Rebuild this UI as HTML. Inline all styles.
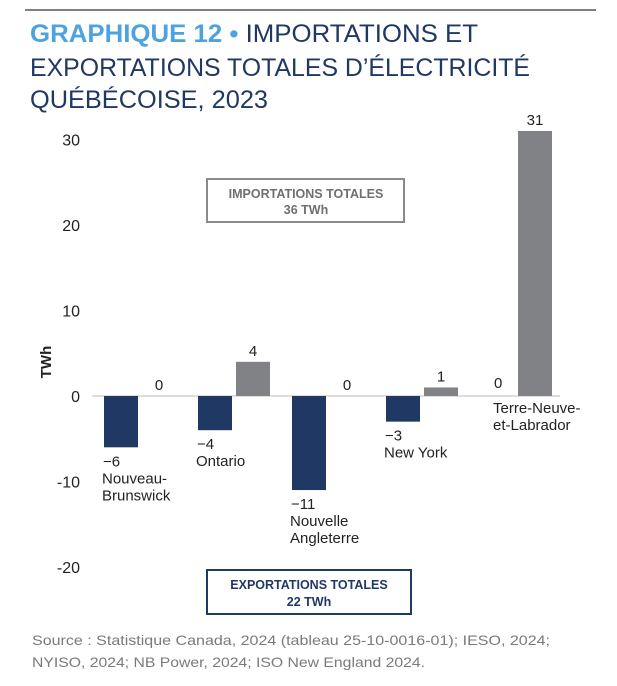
<!DOCTYPE html>
<html><head><meta charset="utf-8"><style>
html,body{margin:0;padding:0;background:#fff}
svg{display:block;font-family:"Liberation Sans",sans-serif}
</style></head><body>
<svg width="617" height="686" viewBox="0 0 617 686">
<line x1="25" y1="10" x2="596" y2="10" stroke="#7f7f7f" stroke-width="2"/>
<text x="30" y="42" font-size="25" fill="#1f3864" textLength="448" lengthAdjust="spacingAndGlyphs"><tspan fill="#4da3e0" font-weight="bold">GRAPHIQUE 12 • </tspan>IMPORTATIONS ET</text>
<text x="30" y="76" font-size="25" fill="#1f3864" textLength="500" lengthAdjust="spacingAndGlyphs">EXPORTATIONS TOTALES D’ÉLECTRICITÉ</text>
<text x="30" y="108" font-size="25" fill="#1f3864" textLength="238" lengthAdjust="spacingAndGlyphs">QUÉBÉCOISE, 2023</text>
<g id="yaxis"></g>
<text x="0" y="0" transform="translate(51,362) rotate(-90)" text-anchor="middle" font-size="15" font-weight="bold" fill="#222">TWh</text>
<g id="bars"></g>
<rect x="207" y="179" width="197" height="43" fill="#fff" stroke="#8a8a8a" stroke-width="2"/>
<text x="306" y="198" text-anchor="middle" font-size="12.5" font-weight="bold" fill="#6f6f6f">IMPORTATIONS TOTALES</text>
<text x="306" y="214" text-anchor="middle" font-size="12.5" font-weight="bold" fill="#6f6f6f">36 TWh</text>
<rect x="207" y="570" width="204" height="44" fill="#fff" stroke="#1f3864" stroke-width="2"/>
<text x="309" y="589" text-anchor="middle" font-size="12.5" font-weight="bold" fill="#1f3864">EXPORTATIONS TOTALES</text>
<text x="309" y="606" text-anchor="middle" font-size="12.5" font-weight="bold" fill="#1f3864">22 TWh</text>
<text x="32" y="645" font-size="14" fill="#7a7a7a" textLength="518" lengthAdjust="spacingAndGlyphs">Source : Statistique Canada, 2024 (tableau 25-10-0016-01); IESO, 2024;</text>
<text x="32" y="667" font-size="14" fill="#7a7a7a" textLength="393" lengthAdjust="spacingAndGlyphs">NYISO, 2024; NB Power, 2024; ISO New England 2024.</text>
</svg>
<script>
const categories=["Nouveau-Brunswick","Ontario","Nouvelle Angleterre","New York","Terre-Neuve-et-Labrador"];
const exportsVals=[-6,-4,-11,-3,0];
const importsVals=[0,4,0,1,31];
const yTicks=[30,20,10,0,-10,-20];
const yTickLabels=["30","20","10","0","-10","-20"];
const catLabelLines=[["Nouveau-","Brunswick"],["Ontario"],["Nouvelle","Angleterre"],["New York"],["Terre-Neuve-","et-Labrador"]];
const NS="http://www.w3.org/2000/svg";
const y=v=>396-v*8.55;
const xc=i=>140+i*94;
function mk(tag,attrs,parent,text){const e=document.createElementNS(NS,tag);for(const k in attrs)e.setAttribute(k,attrs[k]);if(text!==undefined)e.textContent=text;parent.appendChild(e);return e;}
const ya=document.getElementById('yaxis');
yTicks.forEach((t,i)=>{const e=mk('text',{x:80,y:y(t)+6,'text-anchor':'end','font-size':16,fill:'#222'},ya,yTickLabels[i]);

});
const bg=document.getElementById('bars');
const ax=mk('line',{x1:92,x2:560,y1:y(0),y2:y(0),stroke:'#bbb','stroke-width':1},bg);


const fmt=v=>v<0?'\u2212'+Math.abs(v):String(v);
categories.forEach((c,i)=>{
 const ev=exportsVals[i], iv=importsVals[i];
 const ex=xc(i)-36, ix=xc(i)+2;
 if(ev!==0){const r=mk('rect',{x:ex,y:y(0),width:34,height:y(ev)-y(0),fill:'#1f3864'},bg);
 
 }
 const el=mk('text',{x:ev!==0?ex-1:ex+14,y:ev!==0?y(ev)+19:y(0)-8,'font-size':15,fill:'#222'},bg,fmt(ev));
 
 
 if(iv!==0){const r=mk('rect',{x:ix,y:y(iv),width:34,height:y(0)-y(iv),fill:'#808285'},bg);
 
 }
 const il=mk('text',{x:ix+17,y:y(iv)-6,'text-anchor':'middle','font-size':15,fill:'#222'},bg,fmt(iv));
 
 
 const lines=catLabelLines[i];
 let lx=ex-2, ly=(ev!==0?y(ev)+36:y(0)+18);
 if(i===4){lx=ex+13;ly=y(0)+17;}
 lines.forEach((ln,j)=>{const t=mk('text',{x:lx,y:ly+j*17,'font-size':15,fill:'#222'},bg,ln);
 
 });
});
</script>
</body></html>
